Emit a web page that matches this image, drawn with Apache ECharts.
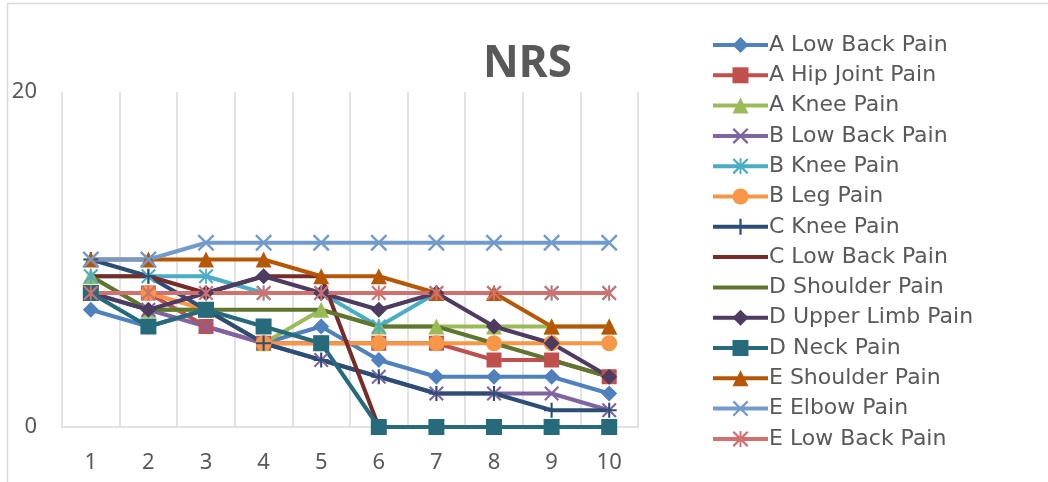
<!DOCTYPE html>
<html>
<head>
<meta charset="utf-8">
<script src="https://cdn.jsdelivr.net/npm/echarts@6/dist/echarts.min.js"></script>
<style>
html,body{margin:0;padding:0;background:#fff;}
#chart{width:1048px;height:482px;}
</style>
</head>
<body>
<div id="chart"></div>
<script>
var categories = ['1','2','3','4','5','6','7','8','9','10'];
var yTicks = [0, 20];
var seriesNames = ['A Low Back Pain','A Hip Joint Pain','A Knee Pain','B Low Back Pain','B Knee Pain','B Leg Pain','C Knee Pain','C Low Back Pain','D Shoulder Pain','D Upper Limb Pain','D Neck Pain','E Shoulder Pain','E Elbow Pain','E Low Back Pain'];
var aLowBack   = [7,6,7,5,6,4,3,3,3,2];
var aHip       = [8,8,6,5,5,5,5,4,4,3];
var aKnee      = [9,7,7,5,7,6,6,6,6,6];
var bLowBack   = [8,7,6,5,4,3,2,2,2,1];
var bKnee      = [9,9,9,8,8,6,8,8,8,8];
var bLeg       = [8,8,7,5,5,5,5,5,5,5];
var cKnee      = [10,9,7,5,4,3,2,2,1,1];
var cLowBack   = [9,9,8,9,9,0,0,0,0,0];
var dShoulder  = [9,7,7,7,7,6,6,5,4,3];
var dUpperLimb = [8,7,8,9,8,7,8,6,5,3];
var dNeck      = [8,6,7,6,5,0,0,0,0,0];
var eShoulder  = [10,10,10,10,9,9,8,8,6,6];
var eElbow     = [10,10,11,11,11,11,11,11,11,11];
var eLowBack   = [8,8,8,8,8,8,8,8,8,8];

var dataList = [aLowBack,aHip,aKnee,bLowBack,bKnee,bLeg,cKnee,cLowBack,dShoulder,dUpperLimb,dNeck,eShoulder,eElbow,eLowBack];
var colors = ['#4F81BD','#C0504D','#9BBB59','#8064A2','#4BACC6','#F79646','#2C4D75','#772C2A','#5F7530','#4D3B62','#276A7C','#B65708','#729ACA','#D1716F'];

var X_PATH = 'path://M0,1 L1,0 L10,9 L9,10 Z M9,0 L10,1 L1,10 L0,9 Z';
var AST_PATH = 'path://M0,1 L1,0 L10,9 L9,10 Z M9,0 L10,1 L1,10 L0,9 Z M4.4,0 L5.6,0 L5.6,10 L4.4,10 Z';
var PLUS_PATH = 'path://M4.3,0 L5.7,0 L5.7,10 L4.3,10 Z M0,4.3 L10,4.3 L10,5.7 L0,5.7 Z';
var LINE_ICON = 'path://M0,0 L0.01,0 Z M0,8 L55,8 L55,12 L0,12 Z M55,20 L54.99,20 Z';
var symbols = ['diamond','rect','triangle',X_PATH,AST_PATH,'circle',PLUS_PATH,'none','none','diamond','rect','triangle',X_PATH,AST_PATH];
var sizes = [16,15,16,15,15,16,15,0,0,16,16,16,17,15];

var series = seriesNames.map(function(n, i){
  return {
    name: n,
    type: 'line',
    data: dataList[i],
    symbol: symbols[i],
    symbolSize: sizes[i],
    showSymbol: symbols[i] !== 'none',
    lineStyle: {width: 4, color: colors[i]},
    itemStyle: {color: colors[i]},
    emphasis: {disabled: true},
    animation: false
  };
});

var legendData = seriesNames.map(function(n, i){
  return symbols[i] === 'none' ? {name: n, icon: LINE_ICON} : {name: n};
});

var chart = echarts.init(document.getElementById('chart'));
chart.setOption({
  color: colors,
  animation: false,
  title: {
    text: 'NRS',
    left: 478,
    top: 37,
    textStyle: {fontFamily: 'Noto Sans', fontSize: 44, fontWeight: 'bold', color: '#595959'}
  },
  graphic: [{
    type: 'rect',
    shape: {x: 7.5, y: 3.5, width: 1200, height: 600},
    style: {fill: 'none', stroke: '#d9d9d9', lineWidth: 1.5},
    silent: true
  }],
  legend: {
    orient: 'vertical',
    left: 706,
    top: 29,
    itemWidth: 55,
    itemHeight: 20,
    itemGap: 8.3,
    lineStyle: {width: 4},
    textStyle: {fontFamily: 'DejaVu Sans', fontSize: 22, color: '#595959', lineHeight: 20, padding: [0,0,0,-4]},
    data: legendData
  },
  grid: {left: 62, right: 410, top: 92, bottom: 55, containLabel: false},
  xAxis: {
    type: 'category',
    data: categories,
    boundaryGap: true,
    axisLine: {show: true, lineStyle: {color: '#d9d9d9', width: 1.5}},
    axisTick: {show: false},
    splitLine: {show: true, lineStyle: {color: '#d9d9d9', width: 1.5}},
    axisLabel: {fontFamily: 'Noto Sans', fontSize: 22, color: '#595959', margin: 25}
  },
  yAxis: {
    type: 'value',
    min: yTicks[0],
    max: yTicks[1],
    interval: 20,
    axisLine: {show: false},
    axisTick: {show: false},
    splitLine: {show: false},
    axisLabel: {fontFamily: 'Noto Sans', fontSize: 22, color: '#595959', margin: 25}
  },
  series: series
});
</script>
</body>
</html>
